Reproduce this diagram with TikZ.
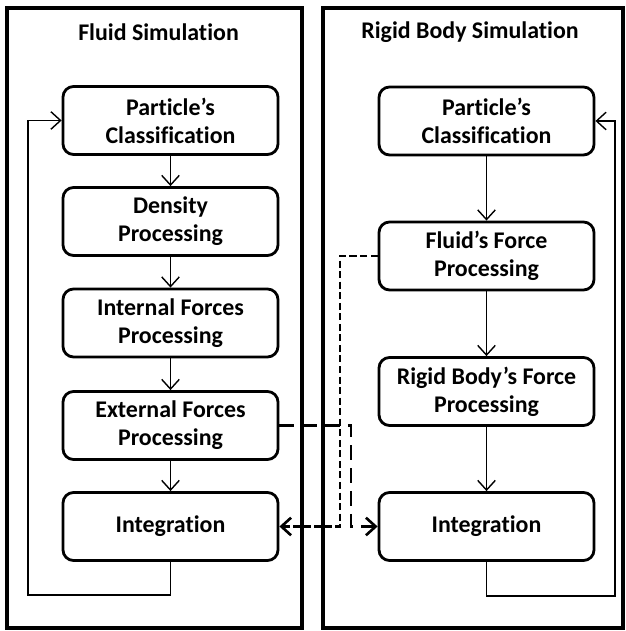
\documentclass[tikz,border=0pt]{standalone}
\usepackage{fontspec}
\setmainfont{Carlito}[Ligatures={NoCommon}]
\usetikzlibrary{arrows.meta}

\begin{document}
\begin{tikzpicture}[>={Straight Barb[length=5.5pt,width=10pt]},
		proc/.style={draw, line width=1.6pt, rounded corners=6pt, minimum width=4.3cm, minimum height=1.36cm, align=center, font=\bfseries\fontsize{13.6}{16}\selectfont},
		paneltitle/.style={font=\bfseries\fontsize{13.6}{16}\selectfont},
		panel/.style={line width=2.2pt},
		flow/.style={->, line width=0.8pt},
		fdash/.style={->, line width=1.5pt, dash pattern=on 4pt off 2pt},
		ldash/.style={->, line width=1.5pt, dash pattern=on 8.5pt off 4.5pt}]
	    		\useasboundingbox (0,0) rectangle (12.5,12.62);
	    		% panels
	    		\draw[panel] (0.14,0.06) rectangle (6.04,12.46);
	    		\draw[panel] (6.46,0.06) rectangle (12.46,12.46);
	    		\node[paneltitle] (ltitle) at (3.17,11.98) {Fluid Simulation};
	    		\node[paneltitle] (rtitle) at (9.40,11.98) {Rigid Body Simulation};
	    		% fluid side
	    		\node[proc] (pclass)   at (3.41,10.21) {Particle’s\\Classification};
	    		\node[proc] (density)  at (3.41, 8.19) {Density\\Processing};
	    		\node[proc] (internal) at (3.41, 6.16) {Internal Forces\\Processing};
	    		\node[proc] (external) at (3.41, 4.11) {External Forces\\Processing};
	    		\node[proc] (integ)    at (3.41, 2.09) {Integration};
	    		\draw[flow] (pclass) -- (density);
	    		\draw[flow] (density) -- (internal);
	    		\draw[flow] (internal) -- (external);
	    		\draw[flow] (external) -- (integ);
	    		\coordinate (lloop) at (0.56,0.72);
	    		\draw[flow] (integ.south) |- (lloop) |- (pclass.west);
	    		% rigid body side
	    		\node[proc] (rpclass)  at (9.73,10.20) {Particle’s\\Classification};
	    		\node[proc] (fforce)   at (9.73, 7.50) {Fluid’s Force\\Processing};
	    		\node[proc] (rbforce)  at (9.73, 4.79) {Rigid Body’s Force\\Processing};
	    		\node[proc] (rinteg)   at (9.73, 2.09) {Integration};
	    		\draw[flow] (rpclass) -- (fforce);
	    		\draw[flow] (fforce) -- (rbforce);
	    		\draw[flow] (rbforce) -- (rinteg);
	    		\coordinate (rloop) at (12.30,0.70);
	    		\draw[flow] (rinteg.south) |- (rloop) |- (rpclass.east);
	    		% coupling
	    		\coordinate (sjog) at (6.80,0);
	    		\coordinate (ljog) at (7.02,0);
	    		\draw[fdash] (fforce.west) -- (fforce.west -| sjog) |- (integ.east);
	    		\draw[ldash] (external.east) -- (external.east -| ljog) |- (rinteg.west);
	    	\end{tikzpicture}
\end{document}
